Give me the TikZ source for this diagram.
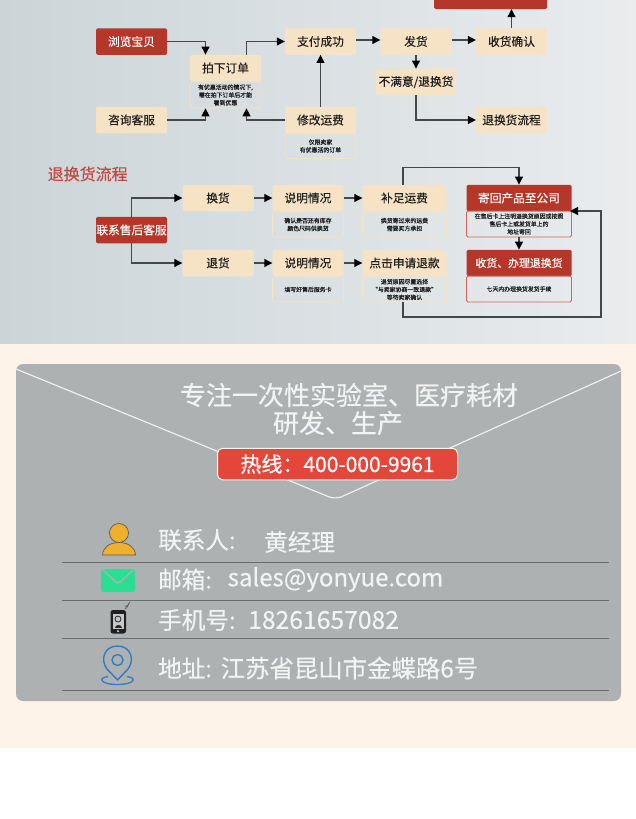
\documentclass[tikz,border=0pt]{standalone}
\usepackage{fontspec}
\setmainfont{Noto Sans CJK SC}
\newfontfamily\boxfont[FakeBold=0.3]{Noto Sans CJK SC}
\newfontfamily\notefont[FakeBold=0.5]{Noto Sans CJK SC}
\newfontfamily\bigfont[FakeBold=0.4]{Noto Sans CJK SC}
\newfontfamily\hotfont[FakeBold=0.7]{Noto Sans CJK SC}
\usetikzlibrary{arrows.meta,calc}
\definecolor{tan}{HTML}{F6E3C5}
\definecolor{brick}{HTML}{B5372A}
\definecolor{pink}{HTML}{D0655A}
\definecolor{connc}{HTML}{43484B}
\definecolor{panel}{HTML}{AEB1B2}
\definecolor{cream}{HTML}{FDF3E9}
\definecolor{ruleg}{HTML}{6A6D6E}
\definecolor{hot}{HTML}{E4473A}
\definecolor{lblue}{HTML}{2F7CC4}
\definecolor{bgl}{HTML}{CBD5D8}
\definecolor{bgr}{HTML}{EAECEE}
\definecolor{soft}{HTML}{F2F3F3}
\definecolor{amber}{HTML}{EFB02F}
\definecolor{mint}{HTML}{2CDE92}
\tikzset{
 box/.style={rounded corners=1.5pt,inner sep=0pt,minimum width=71pt,minimum height=26.5pt,font=\boxfont\fontsize{11.7}{12}\selectfont,text=black!88},
 tanbox/.style={box,fill=tan},
 redbox/.style={box,fill=brick,text=white},
 note/.style={rounded corners=1.5pt,inner sep=0pt,minimum width=71pt,minimum height=25pt,align=center,font=\notefont\fontsize{5.9}{7.8}\selectfont,text=black!88,draw=tan,line width=.7pt},
 rednote/.style={note,draw=pink,line width=.9pt,minimum width=105pt},
 conn/.style={draw=connc,line width=1.1pt,-{Triangle[length=8pt,width=8pt,black]}},
 wtitle/.style={inner sep=0pt,text=soft,font=\bigfont\fontsize{26}{27}\selectfont},
 row/.style={inner sep=0pt,anchor=west,text=soft,font=\bigfont\fontsize{23.6}{27}\selectfont},
 rowline/.style={draw=ruleg,line width=1pt},
 flap/.style={draw=soft,line width=1.1pt}
}
\begin{document}
\begin{tikzpicture}[x=1pt,y=-1pt]
\useasboundingbox (0,0) rectangle (636,819);
\begin{scope}
\clip (0,0) rectangle (636,819);
\fill[white] (0,0) rectangle (636,819);
\shade[left color=bgl,right color=bgr] (0,0) rectangle (636,344);
\fill[cream] (0,344) rectangle (636,748);
% ---- flow 1
\node[redbox] (browse) at (131.5,41.5) {浏览宝贝};
\node[tanbox] (order) at (225.5,68) {拍下订单};
\node[note,minimum height=26pt] (ordern) at (225.5,95) {有优惠活动的情况下,\\需在拍下订单后才能\\看到优惠};
\node[tanbox] (ask) at (131.5,120) {咨询客服};
\node[tanbox] (paid) at (320.5,41.5) {支付成功};
\node[tanbox] (fee) at (320.5,120) {修改运费};
\node[note] (feen) at (320.5,146) {仅限卖家\\有优惠活的订单};
\node[tanbox] (ship) at (416,41.5) {发货};
\node[tanbox] (confirm) at (511.5,41.5) {收货确认};
\node[tanbox,minimum width=80pt] (unhappy) at (416,82) {不满意/退换货};
\node[tanbox] (returnflow) at (511.5,120) {退换货流程};
\node[box,fill=brick,minimum width=113pt,minimum height=20pt] (top) at (490.5,-1) {};
\draw[conn] (browse.east) -| ([xshift=-20pt]order.north);
\draw[conn] (ask.east) -| ([xshift=-20pt]ordern.south);
\draw[conn] ([xshift=21pt]order.north) |- (paid.west);
\draw[conn] (fee.west) -| ([xshift=21pt]ordern.south);
\draw[conn] (fee.north) -- (paid.south);
\draw[conn] ([yshift=1.5pt]paid.east) -- ([yshift=1.5pt]ship.west);
\draw[conn] ([yshift=1.5pt]ship.east) -- ([yshift=1.5pt]confirm.west);
\draw[conn] (confirm.north) -- (confirm.north |- top.south);
\draw[conn] (ship.south) -- (unhappy.north);
\draw[conn] (unhappy.south) |- (returnflow.west);
% ---- flow 2
\node[inner sep=0pt,anchor=west,text=brick!90!white,font=\boxfont\fontsize{16}{18}\selectfont] (title2) at (47.5,174) {退换货流程};
\node[redbox] (contact) at (131.5,230) {联系售后客服};
\node[tanbox] (swap) at (218,198) {换货};
\node[tanbox] (refund) at (218,263) {退货};
\node[tanbox] (st1) at (308,198) {说明情况};
\node[note] (st1n) at (308,224.5) {确认是否还有库存\\颜色尺码供换货};
\node[tanbox] (st2) at (308,263) {说明情况};
\node[note] (st2n) at (308,289.5) {填写好售后服务卡};
\node[tanbox,minimum width=84pt] (add) at (404.5,198) {补足运费};
\node[note,minimum width=84pt] (addn) at (404.5,224.5) {换货寄过来的运费\\需要买方承担};
\node[tanbox,minimum width=84pt] (apply) at (404.5,263) {点击申请退款};
\node[note,minimum width=84pt] (applyn) at (404.5,289.5) {退货原因尽量选择\\“与卖家协商一致退款”\\等待卖家确认};
\node[redbox,minimum width=105pt] (send) at (519,198) {寄回产品至公司};
\node[rednote,minimum height=26pt] (sendn) at (519,224) {在售后卡上注明退换货原因或按照\\售后卡上或发货单上的\\地址寄回};
\node[redbox,minimum width=105pt,font=\boxfont\fontsize{10.9}{12}\selectfont] (recv) at (519,263) {收货、办理退换货};
\node[rednote,minimum height=26pt] (recvn) at (519,289) {七天内办理换货发货手续};
\coordinate (c1) at (403,167.5);
\coordinate (c4) at (601,317);
\coordinate (c5) at (601,211);
\coordinate (c6) at (570,211);
\draw[conn] (contact.north) |- (swap.west);
\draw[conn] (contact.south) |- (refund.west);
\draw[conn] (swap.east) -- (st1.west);
\draw[conn] (refund.east) -- (st2.west);
\draw[conn] (st1.east) -- (add.west);
\draw[conn] (st2.east) -- (apply.west);
\draw[conn] (add.north -| c1) -- (c1) -| (send.north);
\draw[conn] (sendn.south) -- (recv.north);
\draw[conn] (applyn.south -| c1) |- (c4) -- (c5) -- (c6);
% ---- panel
\fill[panel,rounded corners=7pt] (16,364) rectangle (621,701);
\draw[flap,rounded corners=7pt] (16,369) -- (335.5,499.5) -- (621,371);
\node[wtitle] (t1) at (349,395) {专注一次性实验室、医疗耗材};
\node[wtitle] (t2) at (338,423) {研发、生产};
\node[rounded corners=5pt,fill=hot,draw=soft,line width=1pt,minimum width=240pt,minimum height=31.5pt,inner sep=0pt,text=white,font=\hotfont\fontsize{21}{22}\selectfont] (hotline) at (337.5,464) {热线：400-000-9961};
% rows
\node[row] (r1a) at (158,540) {联系人:};
\node[row] (r1b) at (264,542) {黄经理};
\node[row] (r2a) at (158,579.5) {邮箱:};
\node[row,font=\bigfont\fontsize{24}{27}\selectfont] (r2b) at (227.5,579.5) {sales@yonyue.com};
\node[row] (r3a) at (158,620) {手机号:};
\node[row,font=\bigfont\fontsize{24.7}{27}\selectfont] (r3b) at (248,620) {18261657082};
\node[row] (r4a) at (158,668) {地址:};
\node[row,font=\bigfont\fontsize{24.4}{27}\selectfont] (r4b) at (220.5,668) {江苏省昆山市金蝶路6号};
\draw[rowline] (62,562) -- (609,562);
\draw[rowline] (62,600) -- (609,600);
\draw[rowline] (62,638) -- (609,638);
\draw[rowline] (62,690) -- (609,690);
% person icon
\draw[fill=amber,draw=black!65,line width=.7pt] (102.5,555) .. controls (103,547) and (110,542.5) .. (119,542.5) .. controls (128,542.5) and (135,547) .. (135.5,555) -- cycle;
\draw[fill=amber,draw=black!65,line width=.7pt] (119,533) circle (9.5);
% envelope icon
\fill[mint,rounded corners=2.5pt] (101,569) rectangle (135,592);
\draw[draw=panel,line width=1.3pt,rounded corners=2pt] (103,570) -- (118,584) -- (133,570);
% phone icon
\fill[black!88,rounded corners=2.5pt] (110.5,610) rectangle (126,633.5);
\fill[panel!70!white] (112.5,613.5) rectangle (124,628.5);
\draw[black!85,line width=.8pt] (118,619) circle (3);
\fill[black!85] (114.5,627.5) .. controls (114.5,624) and (121.5,624) .. (121.5,627.5) -- cycle;
\fill[white] (118,631) circle (1);
\draw[black!70,line width=.7pt] (125,608.5) arc[start angle=90,end angle=0,radius=2.5];
\draw[black!70,line width=.7pt] (125,606.5) arc[start angle=90,end angle=0,radius=4.5];
% pin icon
\draw[lblue,line width=1.4pt,line join=round] (117.5,680) -- (107,669) .. controls (100,660) and (104,646) .. (117.5,646) .. controls (131,646) and (135,660) .. (128,669) -- cycle;
\draw[lblue,line width=1.4pt] (117.5,660) circle (5.5);
\draw[lblue,line width=1.3pt] (108,676.5) .. controls (97,678) and (101,684.5) .. (117.5,684.5) .. controls (134,684.5) and (138,678) .. (127,676.5);
\end{scope}
\end{tikzpicture}
\end{document}
